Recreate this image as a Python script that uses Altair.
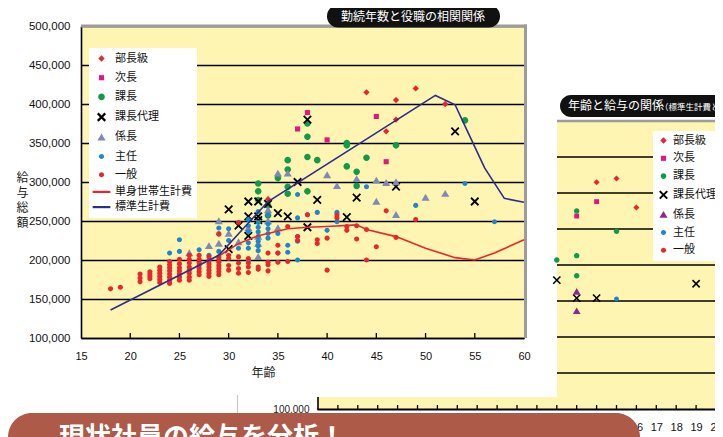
import altair as alt
import pandas as pd

# ---------------- data: main chart (年齢 vs 給与総額) ----------------
ROLES = ["部長級", "次長", "課長", "課長代理", "係長", "主任", "一般"]
LINES = ["単身世帯生計費", "標準生計費"]

buchou_age = [34, 44, 46, 47, 47, 49, 52]
buchou_val = [278000, 415000, 365000, 405000, 380000, 420000, 400000]

jichou_age = [37, 38, 40, 45, 46]
jichou_val = [368000, 389000, 354000, 384000, 326000]

kachou_age = [33, 33, 33, 34, 34, 35, 36, 36, 36, 36, 38, 38, 38, 38, 39, 42, 42, 42, 43, 43, 44, 47, 54]
kachou_val = [298000, 288000, 277000, 270000, 257000, 305000, 328000, 316000, 294000, 285000,
              375000, 358000, 332000, 288000, 328000, 350000, 347000, 320000, 313000, 295000,
              331000, 347000, 379000]

dairi_age = [30, 30, 31, 32, 32, 32, 33, 33, 33, 34, 35, 36, 37, 38, 38, 39, 42, 43, 47, 53, 55]
dairi_val = [265000, 214000, 244000, 275000, 256000, 231000, 275000, 256000, 251000, 272000,
             260000, 256000, 300000, 380000, 242000, 277000, 255000, 280000, 294000, 365000, 275000]

kakari_age = [26, 28, 29, 29, 30, 31, 32, 33, 33, 33, 34, 34, 35, 35, 36, 40, 41, 43, 45, 45, 46, 47, 47, 50, 52]
kakari_val = [209000, 218000, 250000, 221000, 234000, 223000, 241000, 230000, 221000, 204000,
              264000, 250000, 311000, 241000, 311000, 309000, 295000, 304000, 302000, 275000,
              299000, 300000, 258000, 280000, 285000]

shunin_age = [24, 25, 25, 27, 28, 29, 29, 29, 30, 30, 31,
              32, 32, 32, 32, 32, 32,
              33, 33, 33, 33, 33, 33, 33, 33,
              34, 34, 34, 34, 34, 35, 35, 36, 36,
              37, 37, 37, 37, 37, 38, 39, 40, 41, 41, 44, 49, 54, 57]
shunin_val = [209000, 211000, 226000, 213000, 206000, 211000, 234000, 241000, 225000, 240000, 215000,
              200000, 215000, 222000, 236000, 244000, 252000,
              212000, 218000, 224000, 230000, 236000, 242000, 248000, 262000,
              228000, 234000, 240000, 246000, 258000, 209000, 234000, 210000, 219000,
              200000, 224000, 230000, 254000, 284000, 258000, 261000, 238000, 249000, 261000,
              294000, 270000, 298000, 249000]

ippan_age = [18, 19, 21, 21, 21, 22, 22, 22, 22,
             23, 23, 23, 23, 23, 23,
             24, 24, 24, 24, 24, 24, 24, 24,
             25, 25, 25, 25, 25, 25, 25,
             26, 26, 26, 26, 26, 26, 26, 26,
             27, 27, 27, 27, 27, 27, 27,
             28, 28, 28, 28, 28, 28, 28,
             29, 29, 29, 29, 29, 29, 29, 29,
             30, 30, 30, 30, 31, 31, 31, 31, 31,
             32, 32, 32, 32, 33, 33, 34, 34, 34, 34, 35, 35, 35, 36, 36,
             37, 37, 38, 39, 39, 40, 40, 41, 41, 42, 42, 43, 43, 44, 44, 45, 46, 47, 49]
ippan_val = [163000, 165000, 172000, 177000, 182000, 176000, 179000, 182000, 185000,
             171000, 175000, 179000, 183000, 187000, 191000,
             170000, 174000, 178000, 182000, 186000, 190000, 194000, 198000,
             174000, 178000, 182000, 186000, 190000, 195000, 201000,
             174000, 178000, 183000, 187000, 191000, 196000, 201000, 206000,
             181000, 185000, 189000, 193000, 197000, 201000, 206000,
             179000, 183000, 187000, 191000, 195000, 199000, 204000,
             181000, 185000, 189000, 193000, 197000, 201000, 204000, 233000,
             187000, 193000, 202000, 206000, 183000, 189000, 196000, 204000, 248000,
             184000, 191000, 196000, 202000, 188000, 191000, 186000, 194000, 197000, 209000,
             197000, 209000, 219000, 198000, 243000,
             225000, 230000, 258000, 221000, 226000, 187000, 228000, 254000, 258000,
             238000, 243000, 227000, 244000, 200000, 239000, 217000, 263000, 229000, 252000]

tanshin_age = [29, 30, 31, 33, 34, 36, 38, 40, 43, 44, 47, 50, 53, 55, 57, 60]
tanshin_val = [205000, 213000, 221000, 231000, 234000, 240000, 242000, 243000, 245000, 239000,
               230000, 215000, 203000, 200000, 209000, 226000]

hyoujun_age = [18, 29, 34, 51, 53, 54, 56, 58, 60]
hyoujun_val = [136000, 206000, 275000, 411000, 399000, 372000, 318000, 279000, 274000]

x_ticks = [20, 25, 30, 35, 40, 45, 50, 55]
y_ticks = [100000, 150000, 200000, 250000, 300000, 350000, 400000, 450000, 500000]
x_labels = [15, 20, 25, 30, 35, 40, 45, 50, 55, 60]

# ---------------- data: background chart (partly hidden) ----------------
b_buchou_x = [14, 15, 16]
b_buchou_v = [415000, 420000, 380000]
b_jichou_x = [13, 14]
b_jichou_v = [368000, 388000]
b_kachou_x = [12, 13, 13, 13, 15]
b_kachou_v = [307000, 375000, 313000, 285000, 347000]
b_dairi_x = [12, 13, 14, 19]
b_dairi_v = [279000, 254000, 254000, 274000]
b_kakari_x = [13, 13]
b_kakari_v = [263000, 236000]
b_shunin_x = [15]
b_shunin_v = [253000]
b_grid = [150000, 200000, 250000, 300000, 350000, 400000, 450000]
b_ticks = list(range(1, 20))
b_labels = [16, 17, 18, 19, 20]


def rows(role, xs, vs):
    return [{"role": role, "age": a, "val": v} for a, v in zip(xs, vs)]


main_pts = pd.DataFrame(
    rows("部長級", buchou_age, buchou_val) + rows("次長", jichou_age, jichou_val)
    + rows("課長", kachou_age, kachou_val) + rows("課長代理", dairi_age, dairi_val)
    + rows("係長", kakari_age, kakari_val) + rows("主任", shunin_age, shunin_val)
    + rows("一般", ippan_age, ippan_val)
)
main_lines = pd.DataFrame(rows("単身世帯生計費", tanshin_age, tanshin_val)
                          + rows("標準生計費", hyoujun_age, hyoujun_val))
back_pts = pd.DataFrame(
    rows("部長級", b_buchou_x, b_buchou_v) + rows("次長", b_jichou_x, b_jichou_v)
    + rows("課長", b_kachou_x, b_kachou_v) + rows("課長代理", b_dairi_x, b_dairi_v)
    + rows("係長", b_kakari_x, b_kakari_v) + rows("主任", b_shunin_x, b_shunin_v)
)
one = pd.DataFrame({"k": [0]})

# ---------------- styling ----------------
JP = "Noto Sans CJK JP"
NUM = "Liberation Sans"
YELLOW = "#FEF5B3"
GREY = "#9C9C9C"

DIAMOND = "M0,-1.05L1.05,0L0,1.05L-1.05,0Z"
SQUARE = "M-0.85,-0.85L0.85,-0.85L0.85,0.85L-0.85,0.85Z"
CIRC_L = "M-1.1,0A1.1,1.1,0,1,0,1.1,0A1.1,1.1,0,1,0,-1.1,0Z"
CIRC_M = "M-0.95,0A0.95,0.95,0,1,0,0.95,0A0.95,0.95,0,1,0,-0.95,0Z"
CIRC_S = "M-0.85,0A0.85,0.85,0,1,0,0.85,0A0.85,0.85,0,1,0,-0.85,0Z"
XMARK = "M-1.25,-1.25L1.25,1.25M-1.25,1.25L1.25,-1.25"
TRI = "M0,-1.25L1.35,1.05L-1.35,1.05Z"
LINE = "M-2.95,0L2.95,0"

M_DOMAIN = ROLES + LINES
M_FILL = ["#E8262C", "#E4157F", "#119A48", "transparent", "#8088B8", "#1C86D1", "#E8262C",
          "transparent", "transparent"]
M_STROKE = ["transparent", "transparent", "transparent", "#000000", "transparent", "transparent",
            "transparent", "#E8262C", "#2A2E8C"]
M_SHAPE = [DIAMOND, SQUARE, CIRC_L, XMARK, TRI, CIRC_S, CIRC_S, LINE, LINE]

B_FILL = ["#E8262C", "#E4157F", "#119A48", "transparent", "#8B2A8C", "#1C86D1", "#E8262C"]
B_STROKE = ["transparent", "transparent", "transparent", "#000000", "transparent", "transparent",
            "transparent"]
B_SHAPE = [DIAMOND, SQUARE, CIRC_M, XMARK, TRI, CIRC_S, CIRC_S]

# ---------------- main chart ----------------
xs_m = alt.Scale(domain=[15, 60], nice=False, zero=False)
ys_m = alt.Scale(domain=[100000, 500000], nice=False, zero=False)
ax_x = alt.Axis(values=x_labels, title="年齢", titleX=182, titleY=34, titleBaseline="middle",
                titleFont=JP, titleFontSize=12, titleFontWeight="normal", titleColor="#222",
                labelFont=NUM, labelFontSize=11, labelColor="#111", labelPadding=12,
                labelFlush=False, labelOverlap=False, grid=False, ticks=False, tickSize=0,
                domainColor="#000", domainWidth=1.6)
ax_y = alt.Axis(values=y_ticks, format=",", labelExpr="format(datum.value, ',')",
                title=["給", "与", "総", "額"], titleAngle=0,
                titleX=-59, titleY=146, titleAlign="center", titleBaseline="top",
                titleLineHeight=15, titleFont=JP, titleFontSize=12, titleFontWeight="normal",
                titleColor="#222", labelFont=NUM, labelFontSize=11.5, labelColor="#111",
                labelPadding=11, labelFlush=False, labelOverlap=False, grid=True,
                gridColor="#000", gridWidth=1.3, gridOpacity=1, ticks=False, tickSize=0,
                domainColor="#000", domainWidth=1.6)
X_M = alt.X("age:Q", scale=xs_m, axis=ax_x)
Y_M = alt.Y("val:Q", scale=ys_m, axis=ax_y)

leg_m = alt.Legend(orient="none", legendX=8, legendY=22, direction="vertical", title=None,
                   fillColor="#FFFFFF", padding=5, rowPadding=3.2, symbolSize=36,
                   symbolStrokeWidth=2.2, symbolOffset=2, labelOffset=8, labelFont=JP,
                   labelFontSize=11, labelColor="#111", labelLimit=200)

m_fill = alt.Fill("role:N", scale=alt.Scale(domain=M_DOMAIN, range=M_FILL), legend=leg_m)
m_stroke = alt.Stroke("role:N", scale=alt.Scale(domain=M_DOMAIN, range=M_STROKE), legend=leg_m)
m_shape = alt.Shape("role:N", scale=alt.Scale(domain=M_DOMAIN, range=M_SHAPE), legend=leg_m)

m_points = alt.Chart(main_pts).mark_point(filled=True, size=36, strokeWidth=1.8, opacity=1).encode(
    x=X_M, y=Y_M, fill=m_fill, stroke=m_stroke, shape=m_shape)
m_lines = alt.Chart(main_lines).mark_line(strokeWidth=1.6).encode(
    x=X_M, y=Y_M, stroke=m_stroke)
m_xt = alt.Chart(pd.DataFrame({"age": x_ticks})).mark_rule(color="#000", strokeWidth=1.3).encode(
    x=X_M, y=alt.value(312), y2=alt.value(307))
m_top = alt.Chart(one).mark_rule(color=GREY, strokeWidth=3).encode(
    x=alt.value(0), x2=alt.value(446), y=alt.value(0))
m_right = alt.Chart(one).mark_rule(color=GREY, strokeWidth=3).encode(
    x=alt.value(444.5), y=alt.value(-1.5), y2=alt.value(312))

main_group = alt.layer(m_points, m_lines, m_xt, m_top, m_right)

# ---------------- background chart (right side) ----------------
xs_b = alt.Scale(domain=[0, 20], range=[237, 635], nice=False, zero=False)
ys_b = alt.Scale(domain=[100000, 500000], range=[383, 95], nice=False, zero=False)
ax_bx = alt.Axis(values=b_labels, orient="bottom", offset=71, title=None, grid=False, ticks=False,
                 tickSize=0, domain=False, labelPadding=12, labelFont=NUM, labelFontSize=11,
                 labelColor="#111", labelFlush=False, labelOverlap=False)
ax_by = alt.Axis(values=[100000], format=",", labelExpr="format(datum.value, ',')", orient="left",
                 offset=-237, title=None, grid=False,
                 ticks=False, tickSize=0, domain=False, labelPadding=9, labelFont=NUM,
                 labelFontSize=10, labelColor="#222", labelFlush=False)
X_B = alt.X("age:Q", scale=xs_b, axis=ax_bx)
Y_B = alt.Y("val:Q", scale=ys_b, axis=ax_by)

leg_b = alt.Legend(orient="none", legendX=572, legendY=105, direction="vertical", title=None,
                   fillColor="#FFFFFF", padding=4, rowPadding=2.8, symbolSize=36,
                   symbolStrokeWidth=2, symbolOffset=1, labelOffset=4, labelFont=JP,
                   labelFontSize=11, labelColor="#111", labelLimit=200)
b_fill = alt.Fill("role:N", scale=alt.Scale(domain=ROLES, range=B_FILL), legend=leg_b)
b_stroke = alt.Stroke("role:N", scale=alt.Scale(domain=ROLES, range=B_STROKE), legend=leg_b)
b_shape = alt.Shape("role:N", scale=alt.Scale(domain=ROLES, range=B_SHAPE), legend=leg_b)

b_bg1 = alt.Chart(one).mark_rect(color=YELLOW).encode(
    x=alt.value(476), x2=alt.value(635), y=alt.value(95), y2=alt.value(383))
b_bg2 = alt.Chart(one).mark_rect(color=YELLOW).encode(
    x=alt.value(237), x2=alt.value(477), y=alt.value(371), y2=alt.value(383))
b_gridl = alt.Chart(pd.DataFrame({"val": b_grid})).mark_rule(color="#000", strokeWidth=1.4).encode(
    y=Y_B, x=alt.value(476), x2=alt.value(635))
b_top = alt.Chart(one).mark_rule(color=GREY, strokeWidth=2.5).encode(
    x=alt.value(476), x2=alt.value(637), y=alt.value(95))
b_right = alt.Chart(one).mark_rule(color=GREY, strokeWidth=2.5).encode(
    x=alt.value(636), y=alt.value(94), y2=alt.value(384))
b_bottom = alt.Chart(one).mark_rule(color="#000", strokeWidth=2).encode(
    x=alt.value(236.5), x2=alt.value(636), y=alt.value(383.5))
b_left = alt.Chart(one).mark_rule(color="#000", strokeWidth=1.6).encode(
    x=alt.value(237), y=alt.value(371), y2=alt.value(384))
b_tk = alt.Chart(pd.DataFrame({"age": b_ticks})).mark_rule(color="#000", strokeWidth=1.3).encode(
    x=X_B, y=alt.value(379), y2=alt.value(383))
b_points = alt.Chart(back_pts).mark_point(filled=True, size=33, strokeWidth=1.6, opacity=1).encode(
    x=X_B, y=Y_B, fill=b_fill, stroke=b_stroke, shape=b_shape)

back_group = alt.layer(b_bg1, b_bg2, b_gridl, b_top, b_right, b_bottom, b_left, b_tk, b_points)

# ---------------- decorations: title tags and banner ----------------
pill1 = alt.Chart(one).mark_rect(color="#111111", cornerRadius=11).encode(
    x=alt.value(246), x2=alt.value(419), y=alt.value(-21), y2=alt.value(1.6))
pill1_t = alt.Chart(one).mark_text(text="勤続年数と役職の相関関係", font=JP, fontSize=12, color="#FFFFFF",
                                   align="center", baseline="middle").encode(
    x=alt.value(332), y=alt.value(-9.5))
pill2 = alt.Chart(one).mark_rect(color="#111111", cornerRadius=11).encode(
    x=alt.value(479), x2=alt.value(700), y=alt.value(69), y2=alt.value(91))
pill2_t = alt.Chart(one).mark_text(text="年齢と給与の関係", font=JP, fontSize=12, color="#FFFFFF",
                                   align="left", baseline="middle").encode(
    x=alt.value(487), y=alt.value(80))
pill2_s = alt.Chart(one).mark_text(text="（標準生計費と", font=JP, fontSize=8.5, color="#FFFFFF",
                                   align="left", baseline="middle").encode(
    x=alt.value(579), y=alt.value(81))
gline = alt.Chart(one).mark_rule(color="#C8C8C8", strokeWidth=1.2).encode(
    x=alt.value(156.5), y=alt.value(369), y2=alt.value(390))
banner = alt.Chart(one).mark_rect(color="#AD5A49", cornerRadius=24).encode(
    x=alt.value(-73), x2=alt.value(559), y=alt.value(387), y2=alt.value(450))
banner_t = alt.Chart(one).mark_text(text="現状社員の給与を分析！", font=JP, fontSize=26, fontWeight="bold",
                                    color="#FFFFFF", align="left", baseline="top").encode(
    x=alt.value(-22), y=alt.value(399))

deco = alt.layer(pill1, pill1_t, pill2, pill2_t, pill2_s, gline, banner, banner_t)

chart = alt.layer(main_group, back_group, deco).resolve_scale(
    x="independent", y="independent", fill="independent", stroke="independent", shape="independent"
).properties(
    width=443, height=312,
    padding={"left": 73, "top": 18, "right": 191, "bottom": 99},
    autosize=alt.AutoSizeParams(type="none"),
    background="#FFFFFF",
).configure_view(fill=YELLOW, stroke=None)

chart.save("out.html", embed_options={"renderer": "svg", "actions": False})
